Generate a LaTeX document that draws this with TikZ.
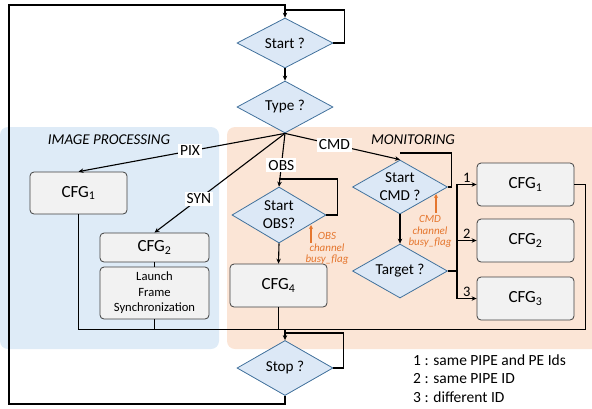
\documentclass[tikz,border=0pt]{standalone}
\usepackage{fontspec}
\setmainfont{Carlito}
\usetikzlibrary{shapes.geometric,arrows.meta}
\definecolor{regblue}{RGB}{222,235,247}
\definecolor{regorange}{RGB}{251,229,214}
\definecolor{diafill}{RGB}{220,232,246}
\definecolor{diaborder}{RGB}{65,113,156}
\definecolor{boxfill}{RGB}{242,242,242}
\definecolor{boxborder}{RGB}{64,64,64}
\definecolor{notec}{RGB}{229,118,46}
\tikzset{
  dia/.style={diamond, draw=diaborder, fill=diafill, line width=0.8pt, inner sep=0pt,
              minimum width=95pt, minimum height=54pt},
  dtext/.style={font=\fontsize{15.2}{18}\selectfont, align=center, inner sep=0pt},
  box/.style={rectangle, rounded corners=4pt, draw=boxborder, fill=boxfill, line width=0.8pt,
              minimum width=97pt, minimum height=43pt, font=\fontsize{17}{18}\selectfont},
  conn/.style={line width=1.1pt, black},
  arr/.style={conn, -{Stealth[length=5pt,width=4.5pt]}},
  elbl/.style={fill=white, inner sep=2pt, font=\fontsize{15.5}{17}\selectfont},
  nlbl/.style={inner sep=1pt, font=\fontsize{14.5}{16}\selectfont},
  title/.style={font=\fontsize{15}{17}\selectfont\itshape},
  note/.style={text=notec, align=center, inner sep=0pt, font=\fontsize{11}{11.5}\selectfont\itshape},
  notearr/.style={draw=notec, line width=1.1pt, -{Stealth[length=4pt,width=4pt]}},
}
\begin{document}
\begin{tikzpicture}[x=1pt,y=-1pt]
\useasboundingbox (0,0) rectangle (592,408);
% regions
\fill[regblue, rounded corners=8pt] (0,127) rectangle (219,349);
\fill[regorange, rounded corners=8pt] (227,127) rectangle (610,349);
\node[title] (ipt) at (109,140) {IMAGE PROCESSING};
\node[title] (mont) at (413,140) {MONITORING};

% diamonds
\node[dia, minimum width=96pt, minimum height=50pt, label={[dtext]center:Start ?}] (start) at (285,43) {};
\node[dia, minimum width=96pt, minimum height=52pt, label={[dtext]center:Type ?}] (type) at (285,107) {};
\node[dia, minimum width=94pt, minimum height=56pt, label={[dtext]center:{Start\\OBS?}}] (sobs) at (279,215) {};
\node[dia, label={[dtext]center:{Start\\CMD ?}}] (scmd) at (400,187) {};
\node[dia, label={[dtext]center:Target ?}] (target) at (400,271) {};
\node[dia, minimum width=96pt, minimum height=55pt, label={[dtext]center:Stop ?}] (stop) at (285,368) {};

% boxes
\node[box, minimum height=42pt] (cfga) at (78.5,193) {CFG\textsubscript{1}};
\node[box, minimum width=109pt, minimum height=29pt] (cfgb) at (154.5,247.5) {CFG\textsubscript{2}};
\node[box, minimum width=109pt, minimum height=52pt, align=center, font=\fontsize{12.6}{15.5}\selectfont] (launch) at (154.5,293) {Launch\\Frame\\Synchronization};
\node[box] (cfg4) at (278.5,285.5) {CFG\textsubscript{4}};
\node[box] (r1) at (525.5,184.5) {CFG\textsubscript{1}};
\node[box] (r2) at (525.5,240.5) {CFG\textsubscript{2}};
\node[box] (r3) at (525.5,298.5) {CFG\textsubscript{3}};

% coordinates
\coordinate (lb) at (9,404);
\coordinate (lt) at (9,5);
\coordinate (sl1) at (285,10);
\coordinate (sl2) at (279,179);
\coordinate (sl3) at (400,153);
\coordinate (sl4) at (285,333);
\coordinate (m) at (285,329.5);
\coordinate (br) at (457,271);

% outer loop
\draw[arr] (stop.south) |- (lb) -- (lt) -| (start.north);
\draw[conn] (start.east) -- ++(11,0) |- (sl1);
\draw[arr] (start.south) -- (type.north);

% branches from Type
\draw[arr] (type.south) -- node[elbl, pos=0.46] {PIX} (cfga.north);
\draw[arr] (type.south) -- node[elbl, pos=0.66] {SYN} (cfgb.north);
\draw[arr] (type.south) -- node[elbl, pos=0.6] {OBS} (sobs.north);
\draw[arr] (type.south) -- node[elbl, pos=0.43] {CMD} (scmd.north);

% image processing
\draw[conn] (cfgb.south) -- (launch.north);
\draw[conn] (cfga.south) |- (m);
\draw[conn] (launch.south) -- (launch.south |- m);

% OBS
\draw[conn] (sobs.east) -- ++(11,0) |- (sl2);
\draw[arr] (sobs.south) -- (cfg4.north);
\draw[conn] (cfg4.south) -- (cfg4.south |- m);

% CMD
\draw[conn] (scmd.east) -- ++(4,0) |- (sl3);
\draw[arr] (scmd.south) -- (target.north);
\draw[conn] (target.east) -- (br);
\draw[arr] (br) |- node[nlbl, pos=0.75, above] {1} (r1.west);
\draw[arr] (br) |- node[nlbl, pos=0.75, above] {2} (r2.west);
\draw[arr] (br) |- node[nlbl, pos=0.75, above] {3} (r3.west);
\draw[conn] (r1.east) -- ++(11,0) |- (m);

% stop
\draw[arr] (m) -- (stop.north);
\draw[conn] (stop.east) -- ++(10,0) |- (sl4);

% notes
\node[note] (obsn) at (327,248.5) {OBS\\channel\\busy\_flag};
\coordinate (obsa) at (311,243);
\draw[notearr] (obsa) -- ++(0,-18);
\node[note] (cmdn) at (430,231.5) {CMD\\channel\\busy\_flag};
\coordinate (cmda) at (436,213);
\draw[notearr] (cmda) -- ++(0,-19);

% legend
\node[anchor=west, align=left, inner sep=0pt, font=\fontsize{15.5}{18.5}\selectfont] (leg) at (413,378.5)
  {1 : same PIPE and PE Ids\\2 : same PIPE ID\\3 : different ID};
\end{tikzpicture}
\end{document}
